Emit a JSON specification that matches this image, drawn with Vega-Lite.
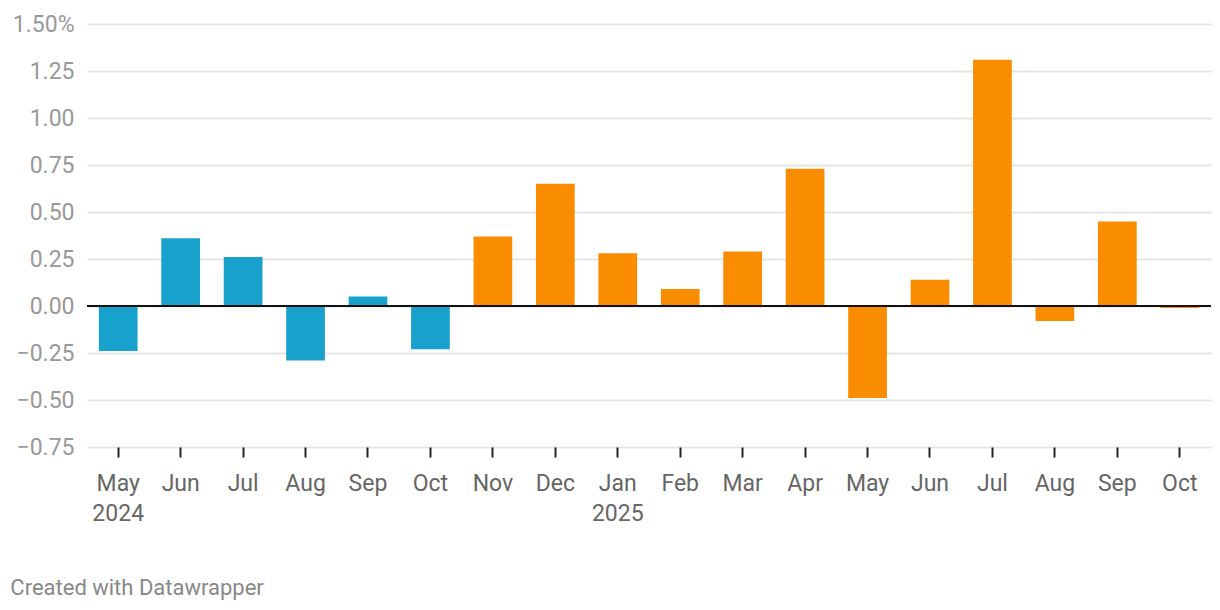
{
  "$schema": "https://vega.github.io/schema/vega-lite/v6.json",
  "width": 1124,
  "height": 423,
  "autosize": {"type": "none"},
  "padding": {"left": 87, "top": 24, "right": 9, "bottom": 163},
  "background": "white",
  "config": {
    "view": {"stroke": null},
    "font": "Roboto"
  },
  "title": {
    "text": "Created with Datawrapper",
    "orient": "bottom",
    "anchor": "start",
    "dx": -2,
    "offset": 53,
    "fontSize": 22,
    "fontWeight": "normal",
    "color": "#888888",
    "font": "Roboto"
  },
  "data": {
    "values": [
      {"month": "May 2024", "value": -0.24, "period": "a"},
      {"month": "Jun 2024", "value": 0.36, "period": "a"},
      {"month": "Jul 2024", "value": 0.26, "period": "a"},
      {"month": "Aug 2024", "value": -0.29, "period": "a"},
      {"month": "Sep 2024", "value": 0.05, "period": "a"},
      {"month": "Oct 2024", "value": -0.23, "period": "a"},
      {"month": "Nov 2024", "value": 0.37, "period": "b"},
      {"month": "Dec 2024", "value": 0.65, "period": "b"},
      {"month": "Jan 2025", "value": 0.28, "period": "b"},
      {"month": "Feb 2025", "value": 0.09, "period": "b"},
      {"month": "Mar 2025", "value": 0.29, "period": "b"},
      {"month": "Apr 2025", "value": 0.73, "period": "b"},
      {"month": "May 2025", "value": -0.49, "period": "b"},
      {"month": "Jun 2025", "value": 0.14, "period": "b"},
      {"month": "Jul 2025", "value": 1.31, "period": "b"},
      {"month": "Aug 2025", "value": -0.08, "period": "b"},
      {"month": "Sep 2025", "value": 0.45, "period": "b"},
      {"month": "Oct 2025", "value": -0.01, "period": "b"}
    ]
  },
  "layer": [
    {
      "mark": {"type": "bar"},
      "encoding": {
        "x": {
          "field": "month",
          "type": "ordinal",
          "sort": null,
          "scale": {"paddingInner": 0.38, "paddingOuter": 0.19},
          "axis": {
            "title": null,
            "domain": false,
            "grid": false,
            "ticks": true,
            "tickSize": 10,
            "tickWidth": 2,
            "tickColor": "#222222",
            "labelAngle": 0,
            "labelFontSize": 23,
            "labelColor": "#666666",
            "labelPadding": 15,
            "labelLineHeight": 30,
            "labelExpr": "datum.value == 'May 2024' || datum.value == 'Jan 2025' ? split(datum.value, ' ') : split(datum.value, ' ')[0]"
          }
        },
        "y": {
          "field": "value",
          "type": "quantitative",
          "scale": {"domain": [-0.75, 1.5], "nice": false, "zero": false},
          "axis": {
            "title": null,
            "domain": false,
            "ticks": false,
            "values": [-0.75, -0.5, -0.25, 0, 0.25, 0.5, 0.75, 1, 1.25, 1.5],
            "grid": true,
            "gridColor": "#e5e5e5",
            "gridWidth": 2,
            "labelFontSize": 23,
            "labelColor": "#999999",
            "labelPadding": 13,
            "labelExpr": "datum.value == 1.5 ? '1.50%' : format(datum.value, '.2f')"
          }
        },
        "color": {
          "field": "period",
          "type": "nominal",
          "scale": {"domain": ["a", "b"], "range": ["#18a1cd", "#fa8c00"]},
          "legend": null
        }
      }
    },
    {
      "mark": {"type": "rule", "color": "#111111", "strokeWidth": 2},
      "encoding": {
        "y": {"datum": 0}
      }
    }
  ]
}
